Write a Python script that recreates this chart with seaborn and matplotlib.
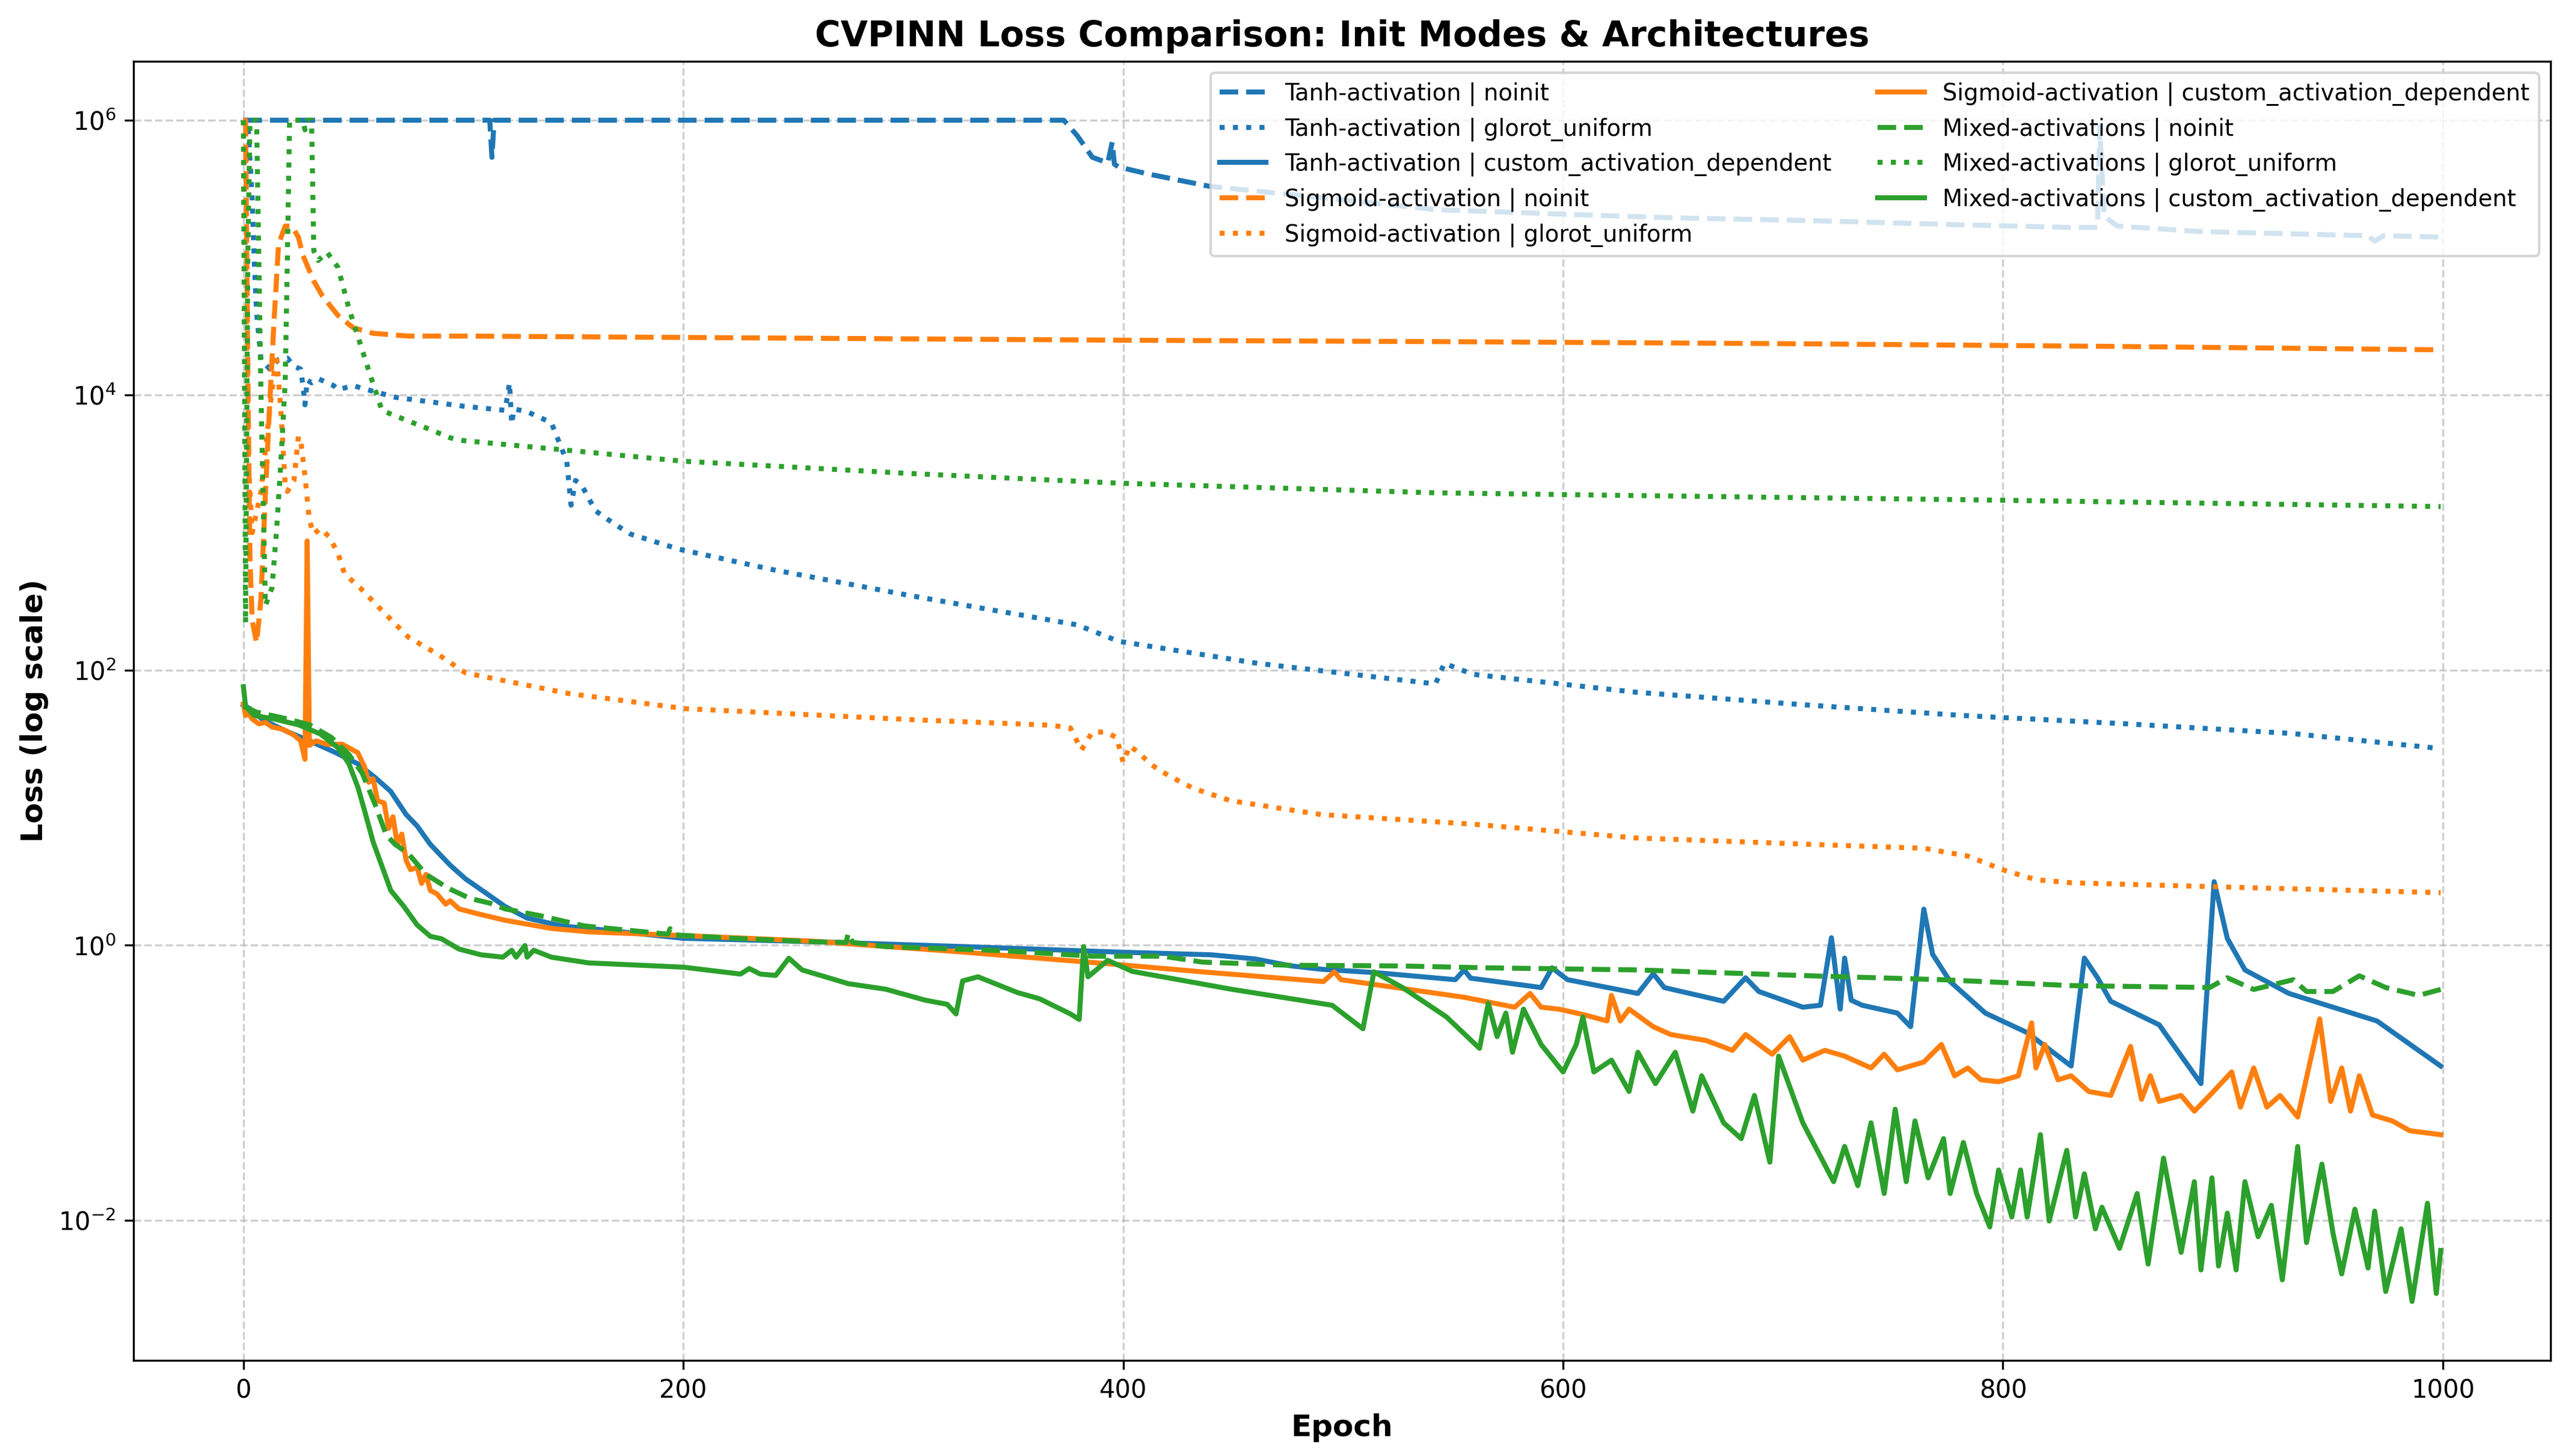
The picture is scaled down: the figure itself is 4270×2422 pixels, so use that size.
import matplotlib
matplotlib.use("Agg")
import numpy as np
import pandas as pd
import matplotlib.pyplot as plt
from matplotlib.ticker import NullLocator
import seaborn as sns

archs = ["Tanh-activation", "Sigmoid-activation", "Mixed-activations"]
inits = ["noinit", "glorot_uniform", "custom_activation_dependent"]

# epoch positions and log10(loss), one pair per run
tanh_noinit_ep = [0, 112, 113, 114, 373, 379, 386, 393, 395, 396, 398, 411, 439, 500, 542,
                  594, 650, 712, 780, 831, 843, 844, 846, 852, 890, 940, 966, 969, 973, 999]
tanh_noinit_lg = [6.0, 6.0, 5.73, 6.0, 6.0, 5.89, 5.73, 5.69, 5.84, 5.68, 5.66, 5.61, 5.52, 5.42, 5.35,
                  5.32, 5.29, 5.27, 5.24, 5.22, 5.22, 5.95, 5.30, 5.23, 5.19, 5.17, 5.16, 5.12, 5.16, 5.15]

tanh_glorot_ep = [0, 2, 4, 5, 6, 8, 12, 16, 20, 23, 26, 27, 28, 29, 31, 34, 41, 43, 50, 54,
                  69, 100, 119, 121, 122, 123, 129, 140, 147, 149, 151, 154, 160, 169, 176, 198,
                  241, 304, 379, 398, 461, 542, 546, 559, 633, 708, 782, 856, 931, 999]
tanh_glorot_lg = [6.0, 6.0, 5.42, 4.95, 4.6, 4.26, 4.19, 4.26, 4.27, 4.21, 4.19, 4.08, 3.93, 4.11,
                  4.09, 4.12, 4.07, 4.04, 4.07, 4.05, 3.985, 3.92, 3.89, 4.09, 3.79, 3.9, 3.88, 3.80,
                  3.52, 3.20, 3.38, 3.34, 3.16, 3.06, 2.99, 2.88, 2.73, 2.54, 2.33, 2.21, 2.05, 1.90,
                  2.05, 1.97, 1.84, 1.75, 1.67, 1.61, 1.54, 1.43]

tanh_custom_ep = [0, 3, 9, 20, 30, 42, 52, 60, 67, 74, 79, 85, 94, 101, 104, 110, 119, 129, 145, 157,
                  200, 260, 327, 397, 440, 460, 476, 490, 515, 551, 555, 558, 590, 595, 602, 634, 641,
                  646, 673, 683, 689, 709, 717, 722, 726, 728, 731, 736, 752, 758, 764, 768, 776, 784,
                  792, 811, 831, 837, 843, 849, 871, 890, 896, 902, 910, 930, 970, 999]
tanh_custom_lg = [1.746, 1.72, 1.637, 1.553, 1.486, 1.40, 1.319, 1.218, 1.118, 0.95, 0.867, 0.733,
                  0.582, 0.482, 0.449, 0.382, 0.281, 0.197, 0.139, 0.122, 0.05, 0.025, -0.01, -0.05,
                  -0.07, -0.10, -0.15, -0.175, -0.20, -0.251, -0.18, -0.24, -0.308, -0.165, -0.251,
                  -0.351, -0.208, -0.308, -0.408, -0.237, -0.337, -0.451, -0.437, 0.054, -0.465,
                  -0.094, -0.40, -0.437, -0.494, -0.593, 0.262, -0.066, -0.265, -0.379, -0.494,
                  -0.636, -0.879, -0.094, -0.237, -0.408, -0.579, -1.007, 0.462, 0.049, -0.18,
                  -0.351, -0.551, -0.879]

sigmoid_noinit_ep = [0, 1, 2, 3, 4, 6, 8, 10, 12, 14, 16, 19, 22, 25, 27, 32, 36, 43, 50, 59, 75,
                     100, 200, 400, 542, 700, 850, 999]
sigmoid_noinit_lg = [6.0, 6.0, 4.2, 2.8, 2.36, 2.20, 2.52, 3.28, 3.95, 4.56, 5.10, 5.23, 5.23, 5.15,
                     5.02, 4.83, 4.72, 4.58, 4.49, 4.45, 4.43, 4.43, 4.42, 4.40, 4.39, 4.375, 4.355, 4.33]

sigmoid_glorot_ep = [0, 1, 2, 4, 8, 12, 15, 17, 19, 20, 23, 25, 26, 28, 30, 32, 35, 39, 43, 46, 53,
                     62, 75, 89, 101, 148, 201, 304, 367, 376, 381, 386, 392, 397, 400, 403, 407, 413,
                     421, 432, 449, 490, 559, 633, 713, 764, 784, 800, 815, 831, 910, 999]
sigmoid_glorot_lg = [6.0, 5.0, 3.6, 3.0, 3.3, 3.9, 4.3, 3.9, 3.35, 3.30, 3.38, 3.70, 3.68, 3.41, 3.09,
                     2.99, 3.03, 2.97, 2.85, 2.70, 2.60, 2.45, 2.24, 2.11, 1.98, 1.83, 1.72, 1.64, 1.60,
                     1.58, 1.42, 1.55, 1.55, 1.51, 1.33, 1.45, 1.40, 1.31, 1.23, 1.14, 1.05, 0.95, 0.88,
                     0.78, 0.733, 0.705, 0.648, 0.548, 0.476, 0.454, 0.419, 0.382]

sigmoid_custom_ep = [0, 1, 2, 4, 7, 10, 13, 18, 23, 26, 28, 29, 30, 33, 38, 45, 52, 55, 57, 59, 61,
                     64, 66, 68, 70, 72, 74, 76, 79, 81, 83, 85, 88, 92, 94, 98, 104, 108, 119, 140,
                     157, 200, 258, 327, 397, 436, 491, 496, 499, 555, 578, 585, 590, 598, 610, 620,
                     622, 626, 630, 641, 649, 665, 677, 683, 695, 703, 709, 719, 728, 740, 746, 752,
                     764, 772, 778, 784, 790, 798, 807, 813, 815, 819, 825, 831, 839, 849, 858, 863,
                     867, 871, 881, 887, 894, 904, 908, 914, 920, 926, 934, 944, 949, 954, 958, 962,
                     968, 977, 985, 999]
sigmoid_custom_lg = [1.754, 1.67, 1.695, 1.645, 1.61, 1.62, 1.587, 1.57, 1.528, 1.486, 1.352, 2.94,
                     1.453, 1.486, 1.461, 1.461, 1.40, 1.30, 1.185, 1.21, 1.05, 1.034, 0.85, 0.934,
                     0.733, 0.808, 0.616, 0.549, 0.566, 0.449, 0.515, 0.398, 0.373, 0.298, 0.323,
                     0.264, 0.239, 0.223, 0.181, 0.122, 0.097, 0.07, 0.03, -0.05, -0.14, -0.194,
                     -0.265, -0.194, -0.251, -0.379, -0.451, -0.351, -0.451, -0.465, -0.508, -0.551,
                     -0.365, -0.551, -0.465, -0.593, -0.65, -0.693, -0.765, -0.65, -0.793, -0.665,
                     -0.836, -0.765, -0.807, -0.893, -0.793, -0.907, -0.85, -0.722, -0.95, -0.893,
                     -0.979, -0.993, -0.95, -0.565, -0.893, -0.722, -0.979, -0.95, -1.064, -1.093,
                     -0.736, -1.121, -0.95, -1.136, -1.093, -1.207, -1.093, -0.922, -1.178, -0.893,
                     -1.178, -1.093, -1.25, -0.536, -1.136, -0.893, -1.207, -0.95, -1.235, -1.278,
                     -1.35, -1.378]

mixed_noinit_ep = [0, 6, 20, 30, 40, 48, 54, 60, 65, 69, 75, 83, 93, 103, 112, 119, 135, 155, 193,
                   194, 196, 223, 258, 274, 275, 277, 292, 345, 386, 418, 436, 475, 525, 566, 634,
                   713, 772, 831, 894, 902, 914, 932, 938, 950, 962, 974, 989, 999]
mixed_noinit_lg = [1.737, 1.695, 1.645, 1.603, 1.511, 1.386, 1.252, 1.018, 0.80, 0.733, 0.666, 0.515,
                   0.415, 0.34, 0.306, 0.264, 0.214, 0.14, 0.08, 0.12, 0.075, 0.05, 0.025, 0.02, 0.086,
                   0.02, -0.01, -0.04, -0.08, -0.08, -0.123, -0.146, -0.151, -0.165, -0.18, -0.223,
                   -0.251, -0.294, -0.308, -0.237, -0.322, -0.251, -0.337, -0.337, -0.223, -0.308,
                   -0.365, -0.322]

mixed_glorot_ep = [0, 1, 2, 3, 6, 8, 10, 13, 15, 17, 19, 20, 21, 27, 28, 29, 31, 32, 34, 38, 43, 48,
                   53, 59, 63, 69, 85, 94, 100, 147, 200, 304, 398, 542, 633, 782, 999]
mixed_glorot_lg = [6.0, 2.34, 5.0, 6.0, 6.0, 4.0, 2.47, 2.6, 3.0, 3.5, 4.1, 5.0, 6.0, 6.0, 5.93, 6.0,
                   6.0, 5.05, 4.98, 5.04, 4.93, 4.63, 4.38, 4.08, 3.89, 3.85, 3.75, 3.69, 3.67, 3.60,
                   3.52, 3.43, 3.36, 3.29, 3.27, 3.24, 3.19]

mixed_custom_ep = [0, 1, 5, 14, 25, 35, 43, 48, 52, 55, 59, 67, 73, 79, 85, 90, 98, 108, 118, 122,
                   124, 128, 129, 132, 140, 157, 200, 226, 230, 235, 242, 248, 254, 275, 292, 310,
                   320, 324, 327, 334, 352, 362, 376, 380, 382, 384, 393, 404, 449, 495, 509, 514,
                   527, 547, 562, 566, 570, 574, 577, 582, 590, 600, 606, 609, 614, 622, 630, 634,
                   642, 651, 659, 663, 673, 681, 687, 694, 698, 709, 723, 728, 734, 740, 746, 751,
                   756, 760, 766, 773, 776, 782, 788, 794, 798, 804, 808, 811, 817, 821, 829, 833,
                   837, 842, 845, 853, 861, 866, 873, 881, 887, 890, 895, 898, 902, 906, 910, 916,
                   922, 927, 934, 938, 945, 950, 954, 960, 966, 969, 974, 981, 986, 993, 997, 999]
mixed_custom_lg = [1.88, 1.737, 1.67, 1.645, 1.603, 1.536, 1.436, 1.319, 1.151, 0.984, 0.75, 0.398,
                   0.281, 0.147, 0.064, 0.047, -0.028, -0.07, -0.087, -0.037, -0.087, -0.003, -0.087,
                   -0.037, -0.087, -0.129, -0.16, -0.21, -0.17, -0.21, -0.22, -0.095, -0.18, -0.28,
                   -0.32, -0.40, -0.43, -0.50, -0.26, -0.23, -0.345, -0.39, -0.50, -0.54, -0.01,
                   -0.23, -0.11, -0.19, -0.32, -0.437, -0.608, -0.194, -0.308, -0.522, -0.75, -0.422,
                   -0.665, -0.494, -0.779, -0.465, -0.722, -0.922, -0.722, -0.522, -0.922, -0.836,
                   -1.064, -0.779, -1.007, -0.779, -1.207, -0.95, -1.292, -1.407, -1.093, -1.578,
                   -0.807, -1.292, -1.72, -1.464, -1.749, -1.292, -1.806, -1.193, -1.72, -1.278,
                   -1.692, -1.407, -1.806, -1.435, -1.806, -2.049, -1.635, -1.977, -1.635, -1.977,
                   -1.378, -2.006, -1.492, -1.977, -1.663, -2.063, -1.906, -2.205, -1.806, -2.319,
                   -1.549, -2.234, -1.72, -2.362, -1.692, -2.333, -1.949, -2.362, -1.72, -2.12,
                   -1.892, -2.434, -1.464, -2.163, -1.592, -2.091, -2.391, -1.92, -2.348, -1.934,
                   -2.519, -2.063, -2.591, -1.877, -2.533, -2.22]

y_ticks = [1e-2, 1e0, 1e2, 1e4, 1e6]

runs = {
    ("Tanh-activation", "noinit"): (tanh_noinit_ep, tanh_noinit_lg),
    ("Tanh-activation", "glorot_uniform"): (tanh_glorot_ep, tanh_glorot_lg),
    ("Tanh-activation", "custom_activation_dependent"): (tanh_custom_ep, tanh_custom_lg),
    ("Sigmoid-activation", "noinit"): (sigmoid_noinit_ep, sigmoid_noinit_lg),
    ("Sigmoid-activation", "glorot_uniform"): (sigmoid_glorot_ep, sigmoid_glorot_lg),
    ("Sigmoid-activation", "custom_activation_dependent"): (sigmoid_custom_ep, sigmoid_custom_lg),
    ("Mixed-activations", "noinit"): (mixed_noinit_ep, mixed_noinit_lg),
    ("Mixed-activations", "glorot_uniform"): (mixed_glorot_ep, mixed_glorot_lg),
    ("Mixed-activations", "custom_activation_dependent"): (mixed_custom_ep, mixed_custom_lg),
}

pal = sns.color_palette("tab10")
arch_colors = dict(zip(archs, pal[:3]))
init_styles = {"noinit": "--", "glorot_uniform": ":", "custom_activation_dependent": "-"}

fig, ax = plt.subplots(figsize=(4270 / 300, 2422 / 300))
fig.subplots_adjust(left=0.052, right=0.9932, top=0.958, bottom=0.0656)

for arch in archs:
    for init in inits:
        ep, lg = runs[(arch, init)]
        df = pd.DataFrame({"epoch": ep, "loss": 10.0 ** np.asarray(lg)})
        sns.lineplot(data=df, x="epoch", y="loss", ax=ax, color=arch_colors[arch],
                     linestyle=init_styles[init], linewidth=2, errorbar=None,
                     label=f"{arch} | {init}")

ax.set_yscale("log")
ax.set_yticks(y_ticks)
ax.yaxis.set_minor_locator(NullLocator())
ax.tick_params(axis="both", labelsize=10)
ax.set_title("CVPINN Loss Comparison: Init Modes & Architectures", fontsize=14, fontweight="bold")
ax.set_xlabel("Epoch", fontsize=12, fontweight="bold")
ax.set_ylabel("Loss (log scale)", fontsize=12, fontweight="bold")
ax.grid(True, which="major", linestyle="--", alpha=0.6)
ax.legend(loc="upper right", ncol=2, fontsize=9.25)

fig.savefig("out.png", dpi=300)
